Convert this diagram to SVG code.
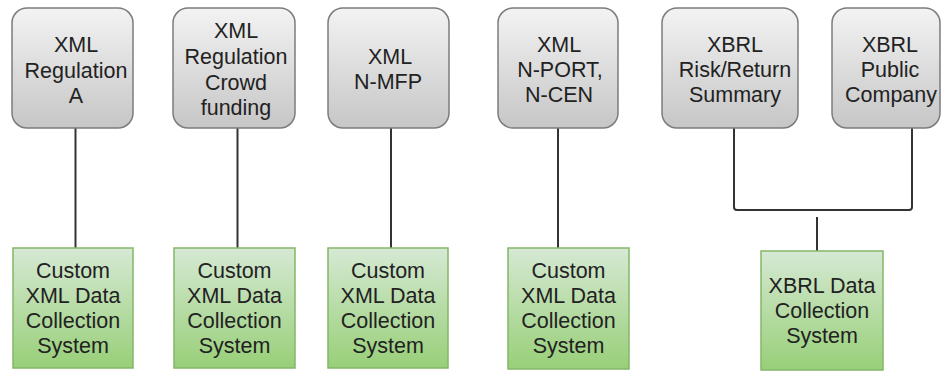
<svg xmlns="http://www.w3.org/2000/svg" width="942" height="371" viewBox="0 0 942 371">
  <defs>
    <linearGradient id="grayFill" x1="0" y1="0" x2="0" y2="1">
      <stop offset="0" stop-color="#f3f3f3"/>
      <stop offset="1" stop-color="#c6c6c6"/>
    </linearGradient>
    <linearGradient id="greenFill" x1="0" y1="0" x2="0" y2="1">
      <stop offset="0" stop-color="#d6e9d4"/>
      <stop offset="1" stop-color="#98cf78"/>
    </linearGradient>
  </defs>
  <style>
    .format { fill: url(#grayFill); stroke: #7c7c7c; stroke-width: 1.5; }
    .system { fill: url(#greenFill); stroke: #84b668; stroke-width: 1.5; }
    .label { font-family: "Liberation Sans", Arial, sans-serif; font-size: 21.5px; fill: #222; text-anchor: middle; }
    .wire { fill: none; stroke: #333; stroke-width: 2; stroke-linejoin: round; }
  </style>

  <!-- connectors -->
  <g id="connectors">
    <path class="wire" d="M75.5 128 V248"/>
    <path class="wire" d="M237.5 128 V248"/>
    <path class="wire" d="M391 128 V248"/>
    <path class="wire" d="M558 128 V248"/>
    <path class="wire" d="M734 128 V207 Q734 210 737 210 H909 Q912 210 912 207 V128"/>
    <path class="wire" d="M817 217 V251"/>
  </g>

  <!-- filing formats -->
  <g id="xml-reg-a">
    <rect class="format" x="12" y="8" width="121" height="120" rx="15"/>
    <text class="label" x="76" y="52">XML</text>
    <text class="label" x="76" y="77.5">Regulation</text>
    <text class="label" x="76" y="103">A</text>
  </g>
  <g id="xml-crowdfunding">
    <rect class="format" x="173" y="8" width="122" height="120" rx="15"/>
    <text class="label" x="236" y="38">XML</text>
    <text class="label" x="236" y="64">Regulation</text>
    <text class="label" x="236" y="89.5">Crowd</text>
    <text class="label" x="236" y="115">funding</text>
  </g>
  <g id="xml-n-mfp">
    <rect class="format" x="328" y="8" width="121" height="120" rx="15"/>
    <text class="label" x="390" y="63.5">XML</text>
    <text class="label" x="388" y="88.5">N-MFP</text>
  </g>
  <g id="xml-n-port">
    <rect class="format" x="498" y="8" width="120" height="120" rx="15"/>
    <text class="label" x="559" y="52">XML</text>
    <text class="label" x="560" y="77">N-PORT,</text>
    <text class="label" x="559" y="102">N-CEN</text>
  </g>
  <g id="xbrl-risk-return">
    <rect class="format" x="662" y="8" width="136" height="120" rx="15"/>
    <text class="label" x="735" y="52">XBRL</text>
    <text class="label" x="735" y="77">Risk/Return</text>
    <text class="label" x="735" y="102">Summary</text>
  </g>
  <g id="xbrl-public-company">
    <rect class="format" x="832" y="8" width="108" height="120" rx="15"/>
    <text class="label" x="890" y="52">XBRL</text>
    <text class="label" x="890" y="77">Public</text>
    <text class="label" x="891" y="102">Company</text>
  </g>

  <!-- collection systems -->
  <g id="custom-xml-1">
    <rect class="system" x="13" y="248" width="120" height="120"/>
    <text class="label" x="73" y="278">Custom</text>
    <text class="label" x="73" y="303">XML Data</text>
    <text class="label" x="73" y="328">Collection</text>
    <text class="label" x="73" y="353">System</text>
  </g>
  <g id="custom-xml-2">
    <rect class="system" x="174" y="248" width="121" height="120"/>
    <text class="label" x="234.5" y="278">Custom</text>
    <text class="label" x="234.5" y="303">XML Data</text>
    <text class="label" x="234.5" y="328">Collection</text>
    <text class="label" x="234.5" y="353">System</text>
  </g>
  <g id="custom-xml-3">
    <rect class="system" x="328" y="248" width="120" height="120"/>
    <text class="label" x="388" y="278">Custom</text>
    <text class="label" x="388" y="303">XML Data</text>
    <text class="label" x="388" y="328">Collection</text>
    <text class="label" x="388" y="353">System</text>
  </g>
  <g id="custom-xml-4">
    <rect class="system" x="508" y="248" width="121" height="121"/>
    <text class="label" x="568.5" y="278">Custom</text>
    <text class="label" x="568.5" y="303">XML Data</text>
    <text class="label" x="568.5" y="328">Collection</text>
    <text class="label" x="568.5" y="353">System</text>
  </g>
  <g id="xbrl-system">
    <rect class="system" x="761" y="251" width="122" height="119"/>
    <text class="label" x="822" y="293">XBRL Data</text>
    <text class="label" x="822" y="318">Collection</text>
    <text class="label" x="822" y="343">System</text>
  </g>
</svg>
